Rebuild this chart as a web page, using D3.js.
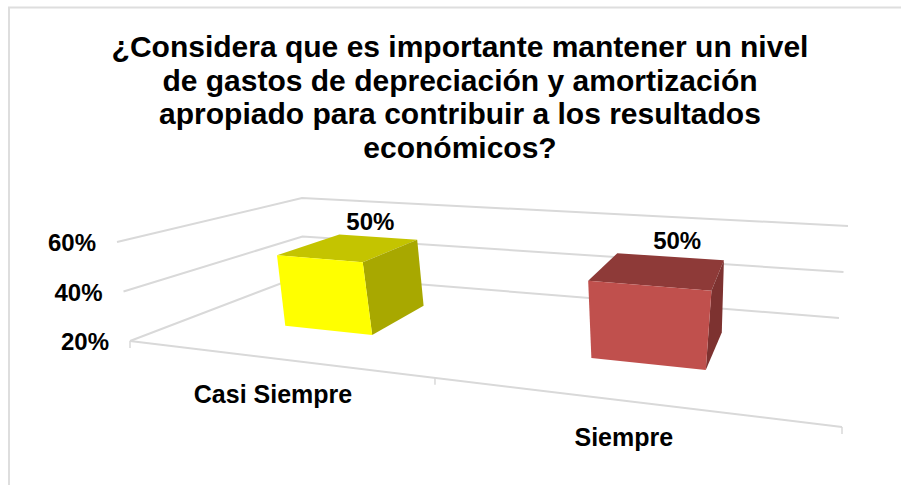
<!DOCTYPE html>
<html>
<head>
<meta charset="utf-8">
<script src="https://cdn.jsdelivr.net/npm/d3@7"></script>
<style>
  html, body { margin: 0; padding: 0; background: #fff; }
  text { font-family: "Liberation Sans", Arial, sans-serif; font-weight: bold; fill: #000; }
</style>
</head>
<body>
<div id="chart"></div>
<script>
var width = 901;
var height = 485;

var titleLines = [
  "¿Considera que es importante mantener un nivel",
  "de gastos de depreciación y amortización",
  "apropiado para contribuir a los resultados",
  "económicos?"
];
var categories = ["Casi Siempre", "Siempre"];
var values = [50, 50];
var tickValues = [20, 40, 60];

var frontColors = ["#ffff00", "#c0504d"];
var topColors = ["#c4c400", "#8e3a38"];
var sideColors = ["#a8a800", "#7d3230"];
var gridColor = "#d9d9d9";

// corners of the floor and of the top plane: front-left, front-right, back-right, back-left
var floorQuad = [[130, 341], [842, 427], [839, 318], [303, 275]];
var topQuad = [[117, 242], [885, 312], [848, 226], [302, 198]];

// square to quad perspective mapping
function quadMap(q) {
  var dx1 = q[1][0] - q[2][0], dx2 = q[3][0] - q[2][0], sx = q[0][0] - q[1][0] + q[2][0] - q[3][0];
  var dy1 = q[1][1] - q[2][1], dy2 = q[3][1] - q[2][1], sy = q[0][1] - q[1][1] + q[2][1] - q[3][1];
  var den = dx1 * dy2 - dx2 * dy1;
  var g = (sx * dy2 - dx2 * sy) / den;
  var h = (dx1 * sy - sx * dy1) / den;
  var a = q[1][0] - q[0][0] + g * q[1][0], b = q[3][0] - q[0][0] + h * q[3][0];
  var d = q[1][1] - q[0][1] + g * q[1][1], e = q[3][1] - q[0][1] + h * q[3][1];
  return function(u, w) {
    var k = g * u + h * w + 1;
    return [(a * u + b * w + q[0][0]) / k, (d * u + e * w + q[0][1]) / k];
  };
}
var floorAt = quadMap(floorQuad);
var topAt = quadMap(topQuad);

var x = d3.scaleBand()
  .domain(categories)
  .range([0.005, 1.005])
  .paddingInner(0.688)
  .paddingOuter(0.344);

var y = d3.scaleLinear()
  .domain([20, 60])
  .range([0, 1]);

// bars sit between these two depths of the floor
var barDepth = [0.31, 0.70];

function project(u, w, val) {
  var p0 = floorAt(u, w), p1 = topAt(u, w), t = y(val);
  return [p0[0] + (p1[0] - p0[0]) * t, p0[1] + (p1[1] - p0[1]) * t];
}

var line = d3.line();

var svg = d3.select("#chart")
  .append("svg")
  .attr("width", width)
  .attr("height", height)
  .style("display", "block");

// chart border
svg.append("path")
  .attr("d", "M9," + height + "V7.5H" + width)
  .attr("fill", "none")
  .attr("stroke", "#dedede")
  .attr("stroke-width", 2);

svg.append("g").selectAll("text")
  .data(titleLines)
  .enter()
  .append("text")
  .attr("x", 460)
  .attr("y", function(d, i) { return 57 + i * 33.6; })
  .attr("text-anchor", "middle")
  .style("font-size", "30px")
  .text(function(d) { return d; });

// walls grid
svg.append("g").selectAll("path")
  .data(tickValues)
  .enter()
  .append("path")
  .attr("d", function(d) { return line([project(0, 0, d), project(0, 1, d), project(1, 1, d)]); })
  .attr("fill", "none")
  .attr("stroke", gridColor)
  .attr("stroke-width", 2);

// front edge of the floor and its ticks
svg.append("path")
  .attr("d", line([project(0, 0, 20), project(1, 0, 20)]))
  .attr("fill", "none")
  .attr("stroke", gridColor)
  .attr("stroke-width", 2);

// ticks at both ends and on the boundary between the two categories
var boundary = x(categories[1]) - x.step() * x.paddingInner() / 2;

svg.append("g").selectAll("path")
  .data([0, boundary, 1])
  .enter()
  .append("path")
  .attr("d", function(d) {
    var p = project(d, 0, 20);
    return line([p, [p[0], p[1] + 7]]);
  })
  .attr("stroke", gridColor)
  .attr("stroke-width", 1.5);

svg.append("g").selectAll("text")
  .data(tickValues)
  .enter()
  .append("text")
  .attr("x", function(d) { return project(0, 0, d)[0] - 21; })
  .attr("y", function(d) { return project(0, 0, d)[1] + 9; })
  .attr("text-anchor", "end")
  .style("font-size", "24px")
  .text(function(d) { return d + "%"; });

// boxes
var bars = svg.append("g").selectAll("g")
  .data(categories)
  .enter()
  .append("g");

function face(cat, i, corners) {
  var u0 = x(cat), u1 = x(cat) + x.bandwidth();
  return line(corners.map(function(c) {
    return project(c[0] ? u1 : u0, barDepth[c[1]], c[2] ? values[i] : 20);
  })) + "Z";
}

bars.append("path")
  .attr("d", function(d, i) { return face(d, i, [[0, 0, 1], [1, 0, 1], [1, 1, 1], [0, 1, 1]]); })
  .attr("fill", function(d, i) { return topColors[i]; });

bars.append("path")
  .attr("d", function(d, i) { return face(d, i, [[1, 0, 0], [1, 1, 0], [1, 1, 1], [1, 0, 1]]); })
  .attr("fill", function(d, i) { return sideColors[i]; });

bars.append("path")
  .attr("d", function(d, i) { return face(d, i, [[0, 0, 0], [1, 0, 0], [1, 0, 1], [0, 0, 1]]); })
  .attr("fill", function(d, i) { return frontColors[i]; });

var labelShift = [-7, 8];

bars.append("text")
  .attr("x", function(d, i) {
    return project(x(d) + x.bandwidth() / 2, barDepth[1], values[i])[0] + labelShift[i];
  })
  .attr("y", function(d, i) {
    return project(x(d) + x.bandwidth() / 2, barDepth[1], values[i])[1] - 7.5;
  })
  .attr("text-anchor", "middle")
  .style("font-size", "24px")
  .text(function(d, i) { return values[i] + "%"; });

bars.append("text")
  .attr("x", function(d) { return project(x(d) + x.bandwidth() / 2, 0, 20)[0]; })
  .attr("y", function(d) { return project(x(d) + x.bandwidth() / 2, 0, 20)[1] + 45; })
  .attr("text-anchor", "middle")
  .style("font-size", "25px")
  .text(function(d) { return d; });
</script>
</body>
</html>
